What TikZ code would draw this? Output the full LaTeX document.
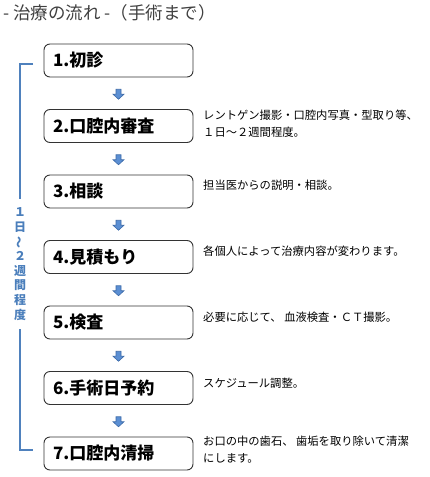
\documentclass[tikz,border=0pt]{standalone}
\usepackage{fontspec}
\setmainfont{Noto Sans CJK JP}
\usetikzlibrary{calc}
\definecolor{brk}{HTML}{4F81BD}
\definecolor{vtxt}{HTML}{4A7EBB}
\definecolor{arrfill}{HTML}{5B8FD3}
\definecolor{arredge}{HTML}{3C6AA8}
\definecolor{ttl}{HTML}{404040}
\tikzset{
  stepbox/.style={draw=black!80, rounded corners=6pt, minimum width=149pt, minimum height=33pt,
    line width=0.9pt, text width=131pt, inner xsep=9pt, inner ysep=0pt, align=left,
    font=\fontsize{17}{17}\selectfont\bfseries},
  note/.style={font=\fontsize{11.3}{17}\selectfont, align=left, inner sep=0pt},
  flowarrow/.style={fill=arrfill, draw=arredge, line width=0.6pt, line join=miter},
  bracket/.style={draw=brk, line width=1.2pt},
}
\begin{document}
\begin{tikzpicture}[x=1pt,y=-1pt]
\useasboundingbox (0,0) rectangle (430,477);
% title
\node[anchor=west, inner sep=0pt, text=ttl, font=\fontsize{17.5}{17.5}\selectfont] (title) at (3,13) {- 治療の流れ -（手術まで）};
% boxes
\foreach \i/\t/\lab in {1/44/1.初診, 2/109.5/2.口腔内審査, 3/175/3.相談, 4/240.5/4.見積もり, 5/306/5.検査, 6/371.5/6.手術日予約, 7/437/7.口腔内清掃}{
  \node[stepbox] (b\i) at (118.5,\t+16.5) {\lab};
}
% arrows between boxes
\foreach \i in {1,...,6}{
  \pgfmathtruncatemacro{\j}{\i+1}
  \coordinate (m\i) at ($(b\i.south)!0.5!(b\j.north)$);
  \draw[flowarrow] ($(m\i)+(-2.5,-4)$) -- ++(5,0) -- ++(0,5) -- ++(3,0) -- ++(-5.5,5) -- ++(-5.5,-5) -- ++(3,0) -- cycle;
}
% notes
\node[note, anchor=north west] (n2) at (203,110) {レントゲン撮影・口腔内写真・型取り等、\\１日～２週間程度。};
\node[note, anchor=west] (n3) at (203,185) {担当医からの説明・相談。};
\node[note, anchor=west] (n4) at (203,251) {各個人によって治療内容が変わります。};
\node[note, anchor=west] (n5) at (203,317) {必要に応じて、 血液検査・ＣＴ撮影。};
\node[note, anchor=west] (n6) at (203,383) {スケジュール調整。};
\node[note, anchor=north west] (n7) at (203,436) {お口の中の歯石、 歯垢を取り除いて清潔\\にします。};
% bracket with vertical text
\node[inner sep=0pt, align=center, text=vtxt, font=\fontsize{12}{14.7}\selectfont\bfseries, minimum height=130pt] (vt) at (20,264)
  {１\\日\\\rotatebox[origin=c]{90}{～}\\２\\週\\間\\程\\度};
\coordinate (tkt) at (33,64);
\coordinate (tkb) at (33,450);
\draw[bracket] (tkt) -- (tkt -| vt.north) -- (vt.north);
\draw[bracket] (vt.south) -- (tkb -| vt.south) -- (tkb);
\end{tikzpicture}
\end{document}
